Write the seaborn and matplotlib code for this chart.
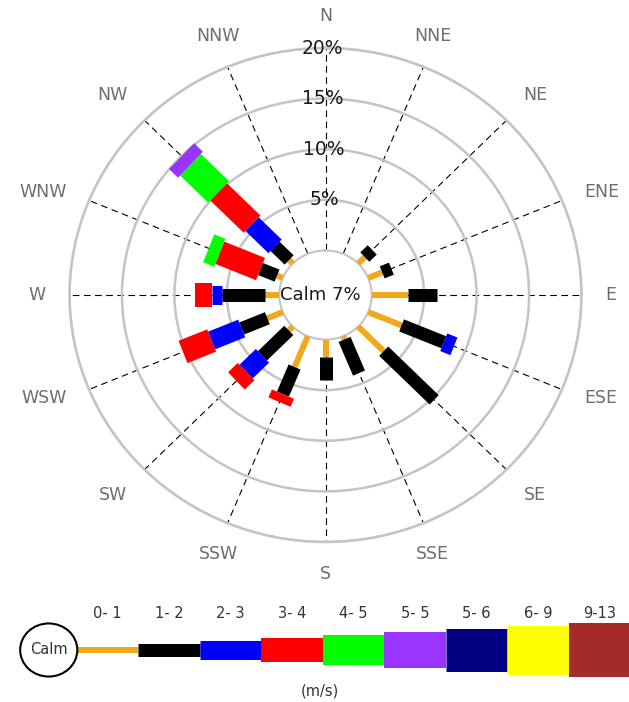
import numpy as np
import pandas as pd
import matplotlib.pyplot as plt
from matplotlib.patches import Ellipse
import seaborn as sns

# Data (percent of observations, per direction and speed class)
# --------------
directions = ["N", "NNE", "NE", "ENE", "E", "ESE", "SE", "SSE",
              "S", "SSW", "SW", "WSW", "W", "WNW", "NW", "NNW"]
speed_bins = ["0- 1", "1- 2", "2- 3", "3- 4", "4- 5", "5- 5", "5- 6", "6- 9", "9-13"]
calm_pct = 7
ring_ticks = [5, 10, 15, 20]

freq_0_1 = [0, 0, 0.9, 1.45, 3.45, 3.45, 3.45, 0.35, 1.75, 3.3, 0.55, 1.6, 1.35, 0.6, 0.5, 0]
freq_1_2 = [0, 0, 1.0, 0.95, 2.75, 4.35, 6.8, 3.6, 2.25, 2.9, 3.55, 2.65, 4.1, 1.7, 1.9, 0]
freq_2_3 = [0, 0, 0, 0, 0, 1.05, 0, 0, 0, 0, 2.2, 3.1, 0.95, 0, 3.1, 0]
freq_3_4 = [0, 0, 0, 0, 0, 0, 0, 0, 0, 0.85, 1.3, 2.95, 1.6, 4.2, 4.5, 0]
freq_4_5 = [0, 0, 0, 0, 0, 0, 0, 0, 0, 0, 0, 0, 0, 1.15, 3.8, 0]
freq_5_5 = [0, 0, 0, 0, 0, 0, 0, 0, 0, 0, 0, 0, 0, 0, 1.2, 0]

# Styles
bin_colors = ["#f2a81d", "#000000", "#0000ff", "#ff0000", "#00ff00",
              "#9933ff", "#000080", "#ffff00", "#a52a2a"]
bin_width_px = [6, 13, 19, 24, 30, 36, 43, 49, 54]
palette = dict(zip(speed_bins, bin_colors))
sizes = {b: w * 0.72 for b, w in zip(speed_bins, bin_width_px)}
RING_GREY = "#c4c4c4"

# Set-up
# --------------
sns.set_theme(style="white")
plt.rcParams["font.family"] = ["DejaVu Sans"]

# Building one radial segment per (direction, speed class)
rose = np.array([freq_0_1, freq_1_2, freq_2_3, freq_3_4, freq_4_5, freq_5_5])
tops = rose.cumsum(axis=0)
angles = np.deg2rad(np.arange(len(directions)) * 22.5)
rows = []
for i in range(rose.shape[0]):
    for j in range(len(directions)):
        if rose[i, j] <= 0:
            continue
        seg = f"{i}-{j}"
        rows.append((seg, speed_bins[i], angles[j], tops[i, j] - rose[i, j]))
        rows.append((seg, speed_bins[i], angles[j], tops[i, j]))
seg_df = pd.DataFrame(rows, columns=["seg", "speed", "theta", "r"])

fig = plt.figure(figsize=(6.29, 7.02), dpi=100)
ax = fig.add_axes([69.5 / 629, 1 - 542 / 702, 512 / 629, 494 / 702], projection="polar")
ax.set_aspect("auto")

sns.lineplot(data=seg_df, x="theta", y="r", hue="speed", size="speed",
             palette=palette, sizes=sizes, units="seg", estimator=None,
             sort=False, legend=False, ax=ax, solid_capstyle="butt", zorder=3)

ax.set_theta_zero_location("N")
ax.set_theta_direction(-1)
ax.set_ylim(0, 20)
ax.set_rorigin(-4.4)
ax.set_xlabel("")
ax.set_ylabel("")

# Grid: grey rings and dashed direction spokes
ax.set_axisbelow(True)
ax.set_xticks(angles)
ax.set_xticklabels([])
ax.set_yticks(ring_ticks)
ax.set_yticklabels([])
ax.xaxis.grid(True, color="black", linestyle=(0, (6, 4)), linewidth=0.8)
ax.yaxis.grid(True, color=RING_GREY, linestyle="-", linewidth=1.8)
ax.spines["polar"].set_color(RING_GREY)
ax.spines["polar"].set_linewidth(1.8)
ax.spines["inner"].set_color(RING_GREY)
ax.spines["inner"].set_linewidth(1.5)

# Ring labels along the north spoke
for t in ring_ticks:
    ax.text(-0.012, t, f"{t}%", ha="center", va="center", fontsize=13.5, color="#1a1a1a", zorder=4)

# Direction labels
for ang, name in zip(angles, directions):
    s, c = np.sin(ang), np.cos(ang)
    ha = "left" if s > 0.5 else ("right" if s < -0.5 else "center")
    va = "bottom" if c > 0.6 else ("top" if c < -0.6 else "center")
    ax.text(ang, 22.3, name, ha=ha, va=va, fontsize=12.5, color="#6e6e6e")

ax.text(0.49, 0.5, f"Calm {calm_pct}%", transform=ax.transAxes,
        ha="center", va="center", fontsize=13, color="#1a1a1a")

# Legend strip
# --------------
leg = fig.add_axes([77 / 629, 1 - 680 / 702, 553 / 629, 60 / 702])
leg_rows = []
for k, b in enumerate(speed_bins):
    leg_rows.append((b, k, 0.0))
    leg_rows.append((b, k + 1, 0.0))
leg_df = pd.DataFrame(leg_rows, columns=["speed", "x", "y"])
sns.lineplot(data=leg_df, x="x", y="y", hue="speed", size="speed",
             palette=palette, sizes=sizes, units="speed", estimator=None,
             sort=False, legend=False, ax=leg, solid_capstyle="butt")
leg.set_xlim(0, 9)
leg.set_ylim(-1, 1)
leg.axis("off")
for k, b in enumerate(speed_bins):
    leg.text(k + 0.5, 1.2, b, ha="center", va="center", fontsize=10.5, color="#333333")
leg.add_patch(Ellipse((-0.46, 0), 0.93, 1.77, facecolor="white", edgecolor="black",
                      linewidth=1.5, clip_on=False, zorder=5))
leg.text(-0.46, 0, "Calm", ha="center", va="center", fontsize=10.5, color="#333333", zorder=6)
leg.text(3.95, -1.37, "(m/s)", ha="center", va="center", fontsize=10.5, color="#333333")

# Rendering
# --------------
fig.savefig("out.png", dpi=100)
